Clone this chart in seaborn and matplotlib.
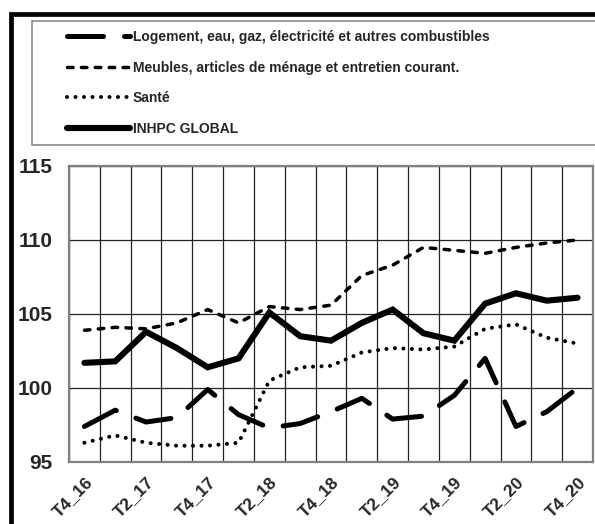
import numpy as np
import pandas as pd
import matplotlib
matplotlib.use('Agg')
import matplotlib.pyplot as plt
import matplotlib.patches as patches
from matplotlib.ticker import MultipleLocator, FixedLocator
import seaborn as sns

# Quarterly index values
quarters = ['T4_16', 'T1_17', 'T2_17', 'T3_17', 'T4_17', 'T1_18', 'T2_18', 'T3_18', 'T4_18',
            'T1_19', 'T2_19', 'T3_19', 'T4_19', 'T1_20', 'T2_20', 'T3_20', 'T4_20']
logement = [97.4, 98.5, 97.7, 98.0, 99.9, 98.2, 97.3, 97.6, 98.4,
            99.3, 97.9, 98.1, 99.5, 102.0, 97.4, 98.4, 100.0]
meubles = [103.9, 104.1, 104.0, 104.4, 105.3, 104.4, 105.5, 105.3, 105.6,
           107.6, 108.3, 109.5, 109.3, 109.1, 109.5, 109.8, 110.0]
sante = [96.3, 96.8, 96.3, 96.1, 96.1, 96.3, 100.5, 101.4, 101.5,
         102.4, 102.7, 102.6, 102.8, 104.0, 104.3, 103.4, 103.0]
inhpc = [101.7, 101.8, 103.8, 102.7, 101.4, 102.0, 105.1, 103.5, 103.2,
         104.4, 105.3, 103.7, 103.2, 105.7, 106.4, 105.9, 106.1]

labels = ['Logement, eau, gaz, électricité et autres combustibles',
          'Meubles, articles de ménage et entretien courant.',
          'Santé',
          'INHPC GLOBAL']

sns.set_style('white')
plt.rcParams['font.family'] = ['Liberation Sans', 'DejaVu Sans']
plt.rcParams['font.weight'] = 'bold'

pos = np.arange(len(quarters))

fig = plt.figure(figsize=(5.95, 5.24), dpi=100)
ax = fig.add_axes([69 / 595, 62 / 524, 524 / 595, 296 / 524])

sns.lineplot(x=pos, y=logement, ax=ax, color='black', lw=3.6,
             linestyle=(0, (7.2, 4.2)), dash_capstyle='round', label=labels[0])
sns.lineplot(x=pos, y=meubles, ax=ax, color='black', lw=2.5,
             linestyle=(0, (1.6, 2.4)), dash_capstyle='round', label=labels[1])
sns.lineplot(x=pos, y=sante, ax=ax, color='black', lw=2.9,
             linestyle=(0, (0.01, 2.1)), dash_capstyle='round', label=labels[2])
sns.lineplot(x=pos, y=inhpc, ax=ax, color='black', lw=4.4,
             solid_capstyle='round', solid_joinstyle='miter', label=labels[3])

handles, labs = ax.get_legend_handles_labels()
ax.get_legend().remove()

ax.set_xlim(-0.5, len(quarters) - 0.5)
ax.set_ylim(95, 115)

# gridlines between categories, ticks on categories
ax.xaxis.set_major_locator(FixedLocator(pos))
ax.set_xticklabels([q if i % 2 == 0 else '' for i, q in enumerate(quarters)],
                   rotation=45, ha='right', rotation_mode='anchor', fontsize=12.5, fontweight='bold')
ax.xaxis.set_minor_locator(FixedLocator(np.arange(-0.5, len(quarters), 1)))
ax.yaxis.set_major_locator(MultipleLocator(5))
ax.yaxis.set_minor_locator(MultipleLocator(1))
for t in ax.get_yticklabels():
    t.set_fontsize(15)
    t.set_fontweight('bold')

ax.tick_params(axis='x', which='major', direction='in', length=4, width=1, color='#333333', pad=9)
ax.tick_params(axis='x', which='minor', length=0)
ax.tick_params(axis='y', which='major', direction='in', length=4, width=1, color='#333333', pad=12)
ax.tick_params(axis='y', which='minor', direction='in', length=4, width=1, color='#333333')

ax.grid(axis='x', which='minor', color='#222222', lw=0.9)
ax.grid(axis='y', which='major', color='#222222', lw=0.9)
ax.set_axisbelow(True)
for s in ax.spines.values():
    s.set_visible(True)
    s.set_color('#808080')
    s.set_linewidth(1.6)
ax.set_xlabel('')
ax.set_ylabel('')

# legend box and outer chart border
fig.patches.append(patches.Rectangle((32 / 595, 1 - 145 / 524), 1.0, 124 / 524,
                                     transform=fig.transFigure, facecolor='white',
                                     edgecolor='#808080', lw=1.1, zorder=0))
fig.patches.append(patches.Rectangle((11 / 595, -0.2), 1.2, 1.2 - 14 / 524,
                                     transform=fig.transFigure, fill=False,
                                     edgecolor='black', lw=3.4))

fig.legend(handles, labs, loc='upper left', bbox_to_anchor=(67 / 595, 1 - 30 / 524),
           frameon=False, prop={'size': 10, 'weight': 'bold'}, handlelength=4.5,
           handletextpad=0.25, labelspacing=1.2, borderpad=0, borderaxespad=0)

fig.savefig('out.png', dpi=100)
